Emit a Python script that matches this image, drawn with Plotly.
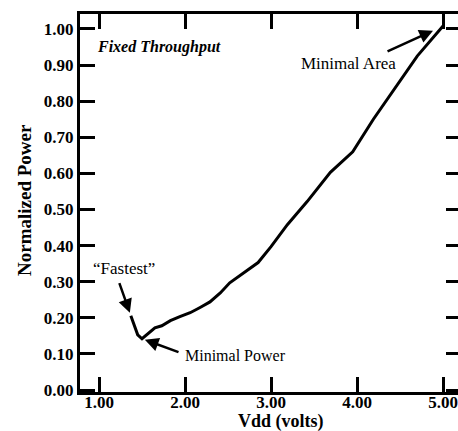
import plotly.graph_objects as go

vdd = [1.37, 1.45, 1.50, 1.59, 1.65, 1.73, 1.83, 1.94, 2.06, 2.17, 2.29, 2.41, 2.52,
       2.85, 3.00, 3.19, 3.42, 3.69, 3.95, 4.19, 4.47, 4.70, 5.00]
power = [0.206, 0.153, 0.142, 0.161, 0.172, 0.178, 0.192, 0.203, 0.214, 0.228, 0.244, 0.269, 0.297,
         0.353, 0.397, 0.458, 0.522, 0.603, 0.660, 0.750, 0.847, 0.925, 1.008]
x_ticks = [1, 2, 3, 4, 5]
y_ticks = [0.0, 0.1, 0.2, 0.3, 0.4, 0.5, 0.6, 0.7, 0.8, 0.9, 1.0]

FONT = "Liberation Serif"
W, H = 458, 431
L, R, T, B = 80, 0, 14, 39
pw, ph = W - L - R, H - T - B
YR = [-0.0055, 1.0415]

def px(xp):
    return (xp - L) / pw

def py(yp):
    return (H - B - yp) / ph

imin = power.index(min(power))

fig = go.Figure()
fig.add_trace(go.Scatter(x=vdd, y=power, mode="lines",
                         line=dict(color="black", width=3), hoverinfo="skip",
                         showlegend=False))
fig.add_trace(go.Scatter(x=[vdd[0]], y=[power[0]], yaxis="y2", mode="markers",
                         marker=dict(opacity=0), hoverinfo="skip", showlegend=False))

ann = []
# arrows
ann.append(dict(x=vdd[0], y=power[0], xref="x", yref="y", ax=-12, ay=-34,
                text="", showarrow=True, arrowhead=2, arrowsize=1.1, arrowwidth=2.5,
                arrowcolor="black", standoff=3))
ann.append(dict(x=vdd[imin], y=power[imin], xref="x", yref="y", ax=38, ay=14,
                text="", showarrow=True, arrowhead=2, arrowsize=1.1, arrowwidth=2.5,
                arrowcolor="black", standoff=3))
ann.append(dict(x=vdd[-1], y=power[-1], xref="x", yref="y", ax=-57, ay=26,
                text="", showarrow=True, arrowhead=2, arrowsize=1.1, arrowwidth=2.5,
                arrowcolor="black", standoff=11))
# texts
ann.append(dict(x=px(124), y=py(268), xref="paper", yref="paper", text="\u201cFastest\u201d",
                showarrow=False, font=dict(family=FONT, size=17, color="black"),
                xanchor="center", yanchor="middle"))
ann.append(dict(x=px(183), y=py(355), xref="paper", yref="paper", text="Minimal Power",
                showarrow=False, font=dict(family=FONT, size=16, color="black"),
                xanchor="left", yanchor="middle"))
ann.append(dict(x=px(348), y=py(63), xref="paper", yref="paper", text="Minimal Area",
                showarrow=False, font=dict(family=FONT, size=17, color="black"),
                xanchor="center", yanchor="middle"))
ann.append(dict(x=px(95), y=py(47), xref="paper", yref="paper", text="<b><i>Fixed Throughput</i></b>",
                showarrow=False, font=dict(family=FONT, size=16, color="black"),
                xanchor="left", yanchor="middle"))
ann.append(dict(x=px(281), y=py(421), xref="paper", yref="paper", text="<b>Vdd (volts)</b>",
                showarrow=False, font=dict(family=FONT, size=18, color="black"),
                xanchor="center", yanchor="middle"))
ann.append(dict(x=px(24), y=py(200), xref="paper", yref="paper", text="<b>Normalized Power</b>",
                showarrow=False, textangle=-90, font=dict(family=FONT, size=19, color="black"),
                xanchor="center", yanchor="middle"))

tickfont = dict(family=FONT, size=17, color="black", weight="bold")
fig.update_layout(
    width=W, height=H,
    margin=dict(l=L, r=R, t=T, b=B, pad=0),
    plot_bgcolor="white", paper_bgcolor="white",
    annotations=ann,
    xaxis=dict(range=[0.779, 5.174], tickvals=x_ticks, tickformat=".2f",
               ticks="inside", ticklen=15, tickwidth=2.5, tickcolor="black",
               showline=True, linewidth=3, linecolor="black", mirror="ticks",
               showgrid=False, zeroline=False, ticklabelstandoff=-7,
               tickfont=tickfont),
    yaxis=dict(range=YR, tickvals=y_ticks, tickformat=".2f",
               ticks="inside", ticklen=15, tickwidth=2.5, tickcolor="black",
               showline=True, linewidth=3, linecolor="black", mirror=False,
               showgrid=False, zeroline=False,
               tickfont=tickfont),
    yaxis2=dict(range=YR, overlaying="y", side="right", tickvals=y_ticks,
                ticks="inside", ticklen=12, tickwidth=2.5, tickcolor="black",
                showline=False, showgrid=False, zeroline=False, showticklabels=False),
)

fig.write_html("out.html")
